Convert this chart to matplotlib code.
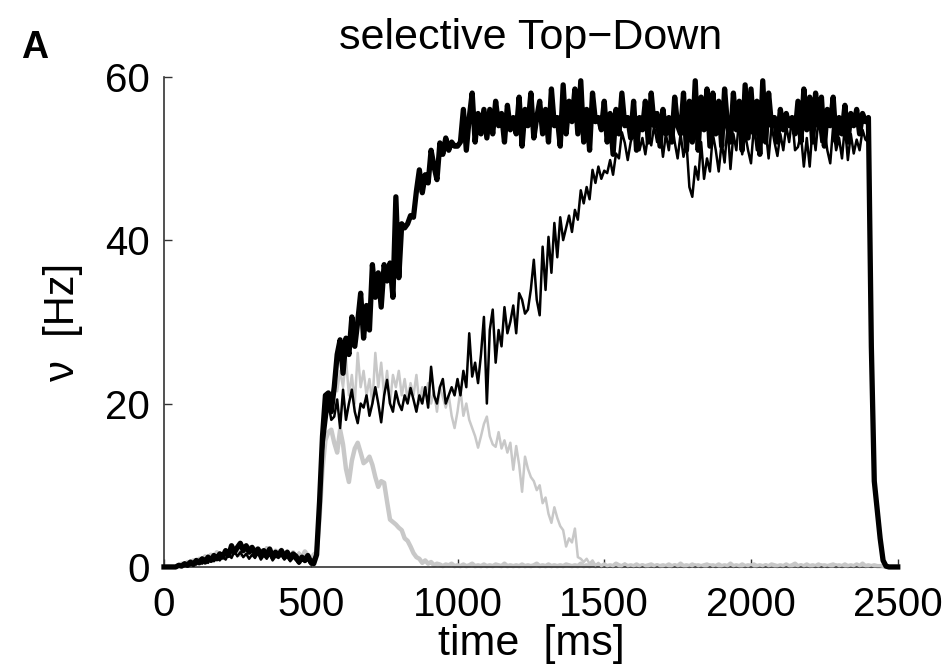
import numpy as np
import matplotlib
matplotlib.use("Agg")
from matplotlib import pyplot as plt

plt.rcParams['font.family'] = ['Liberation Sans', 'DejaVu Sans']

# time axis [ms], 10 ms bins
t = np.arange(0, 2510, 10)

# selective population, thick black
sel_thick = [
    0, 0, 0, 0, 0, 0.2, 0.1, 0.4, 0.2, 0.6,
    0.3, 0.8, 0.5, 1.0, 0.6, 1.2, 0.8, 1.4, 1.0, 1.6,
    1.2, 2.0, 1.4, 2.6, 1.8, 2.4, 2.9, 2.0, 2.6, 1.8,
    2.4, 1.6, 2.2, 1.5, 2.0, 1.4, 2.2, 1.2, 1.8, 1.4,
    2.0, 1.2, 1.8, 1.0, 1.6, 1.3, 0.6, 1.2, 0.8, 1.4,
    0.6, 0.4, 1.5, 8, 16, 21, 21.3, 19, 22, 26,
    27.8, 23.7, 28, 26, 30.6, 27, 30, 33.5, 28, 32,
    29, 37, 33, 36, 31.8, 37, 35, 37.2, 33, 45.3,
    35.4, 42, 41.5, 42, 43, 42.8, 46, 48.6, 45.8, 48,
    47, 51, 49, 47.4, 51.9, 50.5, 52.5, 51, 52, 51.5,
    51.5, 52, 56, 51, 55, 58, 52, 55.5, 53, 56,
    52.5, 56, 53, 57, 54, 55.5, 52, 56.5, 53.5, 55,
    53, 57.5, 51.5, 56, 54, 58, 52.5, 55, 57, 53,
    56, 52, 58.5, 54, 55, 51.5, 59, 53, 57, 54.5,
    58.5, 53, 59.5, 52, 56, 51, 58, 54.5, 55, 53.5,
    57, 52, 55.5, 50.5, 56, 53, 58, 54, 55, 52.5,
    57, 51, 55, 53.5, 57, 52, 58, 54, 55.5, 51.5,
    56, 53, 55, 52, 57.5, 54, 53, 58, 51, 57,
    52, 59.5, 51, 57.5, 53.5, 58.5, 51.5, 58, 53, 57,
    51.5, 58.5, 54, 52, 58, 53.5, 57, 51, 59, 52.5,
    58.5, 53, 57, 50.5, 59.5, 52, 58, 54, 55, 52,
    56, 53.5, 55.5, 54, 55, 53, 57, 52, 58.5, 53.5,
    57.5, 52, 58, 54, 57.5, 51.5, 56, 54, 57.5, 52,
    55, 53, 56.5, 52, 55.5, 54, 56, 53, 55.5, 54.5,
    55, 27, 10.5, 7, 3.5, 0.8, 0.1, 0, 0, 0,
    0,
]

# selective population, thin black
sel_thin = [
    0, 0, 0, 0, 0, 0.1, 0.3, 0.1, 0.5, 0.2,
    0.6, 0.3, 0.9, 0.4, 1.0, 0.5, 1.2, 0.7, 1.1, 0.8,
    1.3, 0.9, 1.6, 1.1, 1.9, 1.3, 1.8, 1.2, 1.6, 1.0,
    1.5, 1.1, 1.7, 0.9, 1.4, 1.0, 1.6, 0.8, 1.3, 1.1,
    1.5, 0.9, 1.3, 0.7, 1.2, 0.8, 0.4, 1.1, 0.6, 0.9,
    0.3, 1.0, 1.5, 8, 14, 17, 20, 18, 18.4, 20.5,
    17, 21.7, 18, 20, 21.7, 19, 17.6, 20, 19.5, 21,
    18.5, 20, 22, 20, 17.7, 21, 22.9, 20, 19, 21.5,
    20, 19.2, 21, 20, 21.9, 20.5, 19, 21, 20, 22,
    19.5, 24.5, 21, 20, 22, 23, 20, 21, 22, 21,
    23, 21, 24, 22, 28.6, 23.3, 25, 22.5, 26, 30.6,
    20, 29, 31.5, 25, 29, 27, 31.8, 28.6, 30, 32,
    28.6, 33.5, 32.7, 31, 31.5, 34, 37.6, 32.7, 30.8, 39.2,
    33.9, 40.4, 36, 42.1, 37.9, 42.8, 40, 41.5, 43, 41,
    43.7, 42.5, 46.1, 44.5, 46.5, 45, 48.6, 47, 49, 47.5,
    48.5, 48.2, 49.8, 48, 50.6, 50, 53.2, 51.9, 49.8, 52,
    53.1, 54.7, 51, 52.5, 50.5, 53, 51.6, 54, 52, 53.5,
    50.2, 53, 51, 54.5, 52, 50, 53, 50.2, 52, 46.5,
    45.3, 49, 47.4, 52, 47.5, 50, 48.4, 53, 51, 48.4,
    52, 49.5, 54, 48.7, 53, 51, 55, 50.5, 53, 51,
    49.4, 54, 51, 55, 52, 53.5, 50, 54, 52, 50.3,
    53, 51, 54, 52, 55, 51, 51.4, 53, 49, 52.5,
    49, 54, 51, 55, 52, 53.5, 51, 49.4, 54, 51,
    52.5, 50, 54, 49.8, 53, 50.6, 52.3, 51, 53.5, 52.3,
    52, 25, 10, 6.5, 3, 0.7, 0.1, 0, 0, 0,
    0,
]

# non-selective population, thick gray
non_thick = [
    0, 0, 0, 0, 0, 0.2, 0.4, 0.2, 0.6, 0.4,
    0.8, 0.5, 1.0, 0.7, 1.3, 0.9, 1.5, 1.1, 1.8, 1.3,
    1.6, 2.0, 1.4, 2.2, 1.7, 2.3, 1.5, 2.1, 1.8, 2.4,
    1.9, 2.2, 1.6, 2.0, 1.5, 2.3, 1.7, 1.4, 2.0, 1.6,
    2.1, 1.5, 1.9, 1.3, 1.8, 1.0, 1.6, 1.2, 1.9, 1.4,
    0.8, 1.5, 1.8, 6, 12, 15.5, 16.5, 16.8, 15.2, 14,
    16.8, 15, 12, 10.4, 13, 14.5, 15.2, 14, 12.7, 13,
    13.5, 12.5, 11, 9.8, 10.5, 10.3, 8, 5.8, 5.5, 5.2,
    4.8, 4.5, 3.5, 3.2, 2.5, 1.7, 1.2, 1.0, 0.5, 0.8,
    0.4, 0.6, 0.2, 0.4, 0.3, 0.1, 0.3, 0.2, 0.4, 0.1,
    0.2, 0.1, 0.3, 0.1, 0.2, 0.4, 0.1, 0.2, 0.1, 0.3,
    0.1, 0.2, 0.1, 0.3, 0.2, 0.1, 0.4, 0.1, 0.2, 0.1,
    0.2, 0.1, 0.3, 0.1, 0.2, 0.1, 0.2, 0.4, 0.1, 0.2,
    0.1, 0.3, 0.1, 0.2, 0.1, 0.2, 0.1, 0.3, 0.2, 0.1,
    0.2, 0.1, 0.4, 0.1, 0.2, 0.1, 0.3, 0.1, 0.2, 0.1,
    0.3, 0.1, 0.2, 0.1, 0.4, 0.2, 0.1, 0.3, 0.1, 0.2,
    0.1, 0.3, 0.1, 0.2, 0.1, 0.2, 0.3, 0.1, 0.2, 0.1,
    0.2, 0.1, 0.3, 0.1, 0.2, 0.1, 0.4, 0.1, 0.2, 0.1,
    0.3, 0.1, 0.2, 0.1, 0.2, 0.3, 0.1, 0.2, 0.1, 0.3,
    0.1, 0.2, 0.1, 0.4, 0.1, 0.2, 0.1, 0.3, 0.1, 0.2,
    0.1, 0.3, 0.1, 0.2, 0.1, 0.2, 0.1, 0.3, 0.2, 0.1,
    0.2, 0.1, 0.3, 0.1, 0.2, 0.4, 0.1, 0.2, 0.1, 0.3,
    0.1, 0.2, 0.1, 0.3, 0.1, 0.2, 0.1, 0.2, 0.3, 0.1,
    0.2, 0.1, 0.3, 0.1, 0.2, 0.1, 0.3, 0.1, 0.4, 0.1,
    0.2, 0.1, 0.2, 0.1, 0.1, 0.1, 0, 0, 0, 0,
    0,
]

# non-selective population, thin gray
non_thin = [
    0, 0, 0, 0, 0, 0.1, 0.3, 0.5, 0.2, 0.6,
    0.4, 0.9, 0.6, 1.1, 0.8, 1.4, 1.0, 1.6, 1.2, 1.8,
    1.4, 1.9, 1.5, 2.2, 1.6, 2.0, 1.4, 1.9, 1.7, 2.2,
    1.8, 2.1, 1.5, 2.0, 1.6, 2.2, 1.4, 1.8, 1.5, 2.0,
    1.7, 1.3, 2.0, 1.2, 1.6, 1.1, 1.8, 1.0, 1.5, 1.2,
    0.6, 1.2, 1.6, 7, 14, 18, 21, 20, 23, 21.5,
    24, 22, 25.5, 21, 23.5, 20, 26.2, 22, 24, 21,
    23, 20, 26.2, 22, 25, 21, 24, 20, 23.5, 22,
    24, 21, 23, 20.5, 22.5, 21, 23.5, 20, 22, 21,
    22.5, 20, 21.5, 19, 22, 20.8, 19.5, 21, 18.5, 17,
    19, 21.7, 18.5, 20, 18, 17, 16, 14.6, 16, 17.5,
    18.4, 16, 15, 14.7, 16.5, 14.5, 15.5, 14, 15.2, 11.9,
    14.8, 12.5, 9.2, 13.5, 12, 11, 10.5, 9.4, 10, 7.8,
    8.5, 6.5, 5.4, 7.3, 6, 5, 4.5, 2.5, 3.5, 3.0,
    4.7, 1.2, 1.0, 0.6, 1.0, 0.4, 0.8, 0.2, 0.5, 0.1,
    0.3, 0.1, 0.2, 0.1, 0.3, 0.1, 0.1, 0.4, 0.1, 0.2,
    0.1, 0.2, 0.1, 0.3, 0.1, 0.1, 0.2, 0.1, 0.3, 0.1,
    0.1, 0.2, 0.1, 0.1, 0.3, 0.1, 0.2, 0.1, 0.1, 0.2,
    0.1, 0.3, 0.1, 0.2, 0.1, 0.1, 0.3, 0.1, 0.2, 0.1,
    0.1, 0.2, 0.1, 0.3, 0.1, 0.2, 0.1, 0.1, 0.2, 0.1,
    0.3, 0.1, 0.1, 0.2, 0.1, 0.3, 0.1, 0.2, 0.1, 0.1,
    0.2, 0.1, 0.3, 0.1, 0.1, 0.2, 0.1, 0.3, 0.1, 0.2,
    0.1, 0.1, 0.2, 0.1, 0.3, 0.1, 0.2, 0.1, 0.1, 0.3,
    0.1, 0.2, 0.1, 0.1, 0.2, 0.1, 0.3, 0.1, 0.2, 0.1,
    0.1, 0.2, 0.1, 0.1, 0.1, 0, 0, 0, 0, 0,
    0,
]

x_ticks = [0, 500, 1000, 1500, 2000, 2500]
y_ticks = [0, 20, 40, 60]

gray = '#c8c8c8'

fig = plt.figure(figsize=(9.48, 6.67), dpi=100)
ax = fig.add_axes([0.173, 0.150, 0.774, 0.735])

ax.plot(t, non_thick, color=gray, lw=3.2, clip_on=False, zorder=2)
ax.plot(t, non_thin, color=gray, lw=1.8, clip_on=False, zorder=3)
ax.plot(t, sel_thin, color='black', lw=1.8, clip_on=False, zorder=4)
ax.plot(t, sel_thick, color='black', lw=3.8, clip_on=False, zorder=5)

ax.set_xlim(0, 2500)
ax.set_ylim(0, 60)
ax.set_xticks(x_ticks)
ax.set_yticks(y_ticks)

for s in ['top', 'right']:
    ax.spines[s].set_visible(False)
for s in ['left', 'bottom']:
    ax.spines[s].set_color('#333333')
    ax.spines[s].set_linewidth(1.2)

ax.tick_params(direction='in', length=6, width=1, color='#333333',
               labelsize=29)
ax.tick_params(axis='x', pad=14)
ax.tick_params(axis='y', pad=10)

ax.set_title('selective Top\u2212Down', fontsize=31, pad=20)
ax.set_xlabel('time  [ms]', fontsize=31, labelpad=0)
ax.set_ylabel('\u03bd  [Hz]', fontsize=30, labelpad=16)

fig.text(0.036, 0.928, 'A', fontsize=27, fontweight='bold',
         ha='center', va='center')

fig.savefig('out.png', dpi=100)
